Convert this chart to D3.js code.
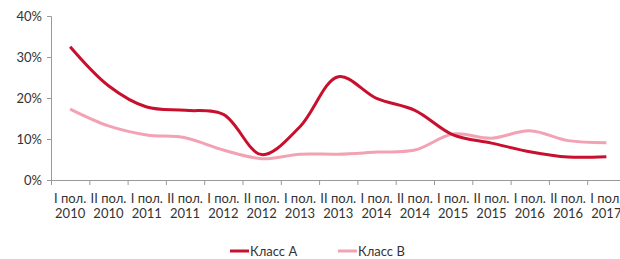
<!DOCTYPE html>
<meta charset="utf-8">
<script src="https://d3js.org/d3.v7.min.js"></script>
<style>
  body { margin: 0; background: #fff; }
  text { font-family: Lato, "Open Sans", sans-serif; fill: #333; }
</style>
<div id="chart"></div>
<script>
// Data
var periods = ["I пол.|2010", "II пол.|2010", "I пол.|2011", "II пол.|2011", "I пол.|2012",
               "II пол.|2012", "I пол.|2013", "II пол.|2013", "I пол.|2014", "II пол.|2014",
               "I пол.|2015", "II пол.|2015", "I пол.|2016", "II пол.|2016", "I пол.|2017"];
var classA = [32.5, 23.0, 17.8, 17.0, 16.0, 6.2, 13.0, 25.2, 19.9, 17.0, 11.0, 9.0, 6.9, 5.6, 5.7];
var classB = [17.3, 13.2, 11.0, 10.3, 7.3, 5.2, 6.3, 6.3, 6.8, 7.3, 11.2, 10.2, 12.0, 9.6, 9.1];
var yTicks = [0, 10, 20, 30, 40];
var seriesNames = ["Класс А", "Класс В"];
var colors = ["#c8102e", "#f2a2b2"];

var width = 620, height = 259;
var margin = {top: 16, left: 51, bottom: 79};

var svg = d3.select("#chart").append("svg")
  .attr("width", width).attr("height", height);

var x = d3.scaleBand()
  .domain(periods)
  .range([margin.left, margin.left + 38.3 * periods.length]);

var y = d3.scaleLinear()
  .domain([0, 40])
  .range([height - margin.bottom, margin.top]);

// Y axis
var yAxis = svg.append("g")
  .attr("transform", "translate(" + margin.left + ",0)")
  .call(d3.axisLeft(y).tickValues(yTicks).tickSize(4).tickFormat(function(d) { return d + "%"; }));
yAxis.select(".domain").attr("stroke", "#999");
yAxis.selectAll(".tick line").attr("stroke", "#999");
yAxis.selectAll(".tick text").attr("x", -9).style("font-size", "13px").style("fill", "#333");

// X axis
var xAxis = svg.append("g")
  .attr("transform", "translate(0," + y(0) + ")")
  .call(d3.axisBottom(x).tickSize(0).tickFormat(""));
xAxis.select(".domain").attr("stroke", "#999");
xAxis.selectAll(".tick").remove();

// x tick marks on band boundaries
svg.append("g").selectAll("line")
  .data(periods)
  .enter().append("line")
  .attr("x1", function(d) { return x(d) + 0.5; })
  .attr("x2", function(d) { return x(d) + 0.5; })
  .attr("y1", y(0)).attr("y2", y(0) + 5)
  .attr("stroke", "#999");

// x labels, two lines
var lbl = svg.append("g").selectAll("text")
  .data(periods)
  .enter().append("text")
  .attr("text-anchor", "middle")
  .style("font-size", "13px")
  .attr("transform", function(d) { return "translate(" + (x(d) + x.bandwidth() / 2) + "," + (y(0) + 23) + ")"; });
lbl.append("tspan").attr("x", 0).attr("y", 0).text(function(d) { return d.split("|")[0]; });
lbl.append("tspan").attr("x", 0).attr("y", 15).text(function(d) { return d.split("|")[1]; });

// Lines
var line = d3.line()
  .x(function(d, i) { return x(periods[i]) + x.bandwidth() / 2; })
  .y(function(d) { return y(d); })
  .curve(d3.curveCatmullRom.alpha(0.5));

[classB, classA].forEach(function(s, k) {
  var idx = 1 - k;
  svg.append("path")
    .datum(s)
    .attr("fill", "none")
    .attr("stroke", colors[idx])
    .attr("stroke-width", 3)
    .attr("d", line);
});

// Legend
var legendX = [230, 338];
var legend = svg.append("g").selectAll("g")
  .data(seriesNames)
  .enter().append("g")
  .attr("transform", function(d, i) { return "translate(" + legendX[i] + ",251)"; });
legend.append("line")
  .attr("x1", 0).attr("x2", 19)
  .attr("stroke", function(d, i) { return colors[i]; })
  .attr("stroke-width", 3);
legend.append("text")
  .attr("x", 20).attr("dy", "0.35em")
  .style("font-size", "13px")
  .text(function(d) { return d; });
</script>
